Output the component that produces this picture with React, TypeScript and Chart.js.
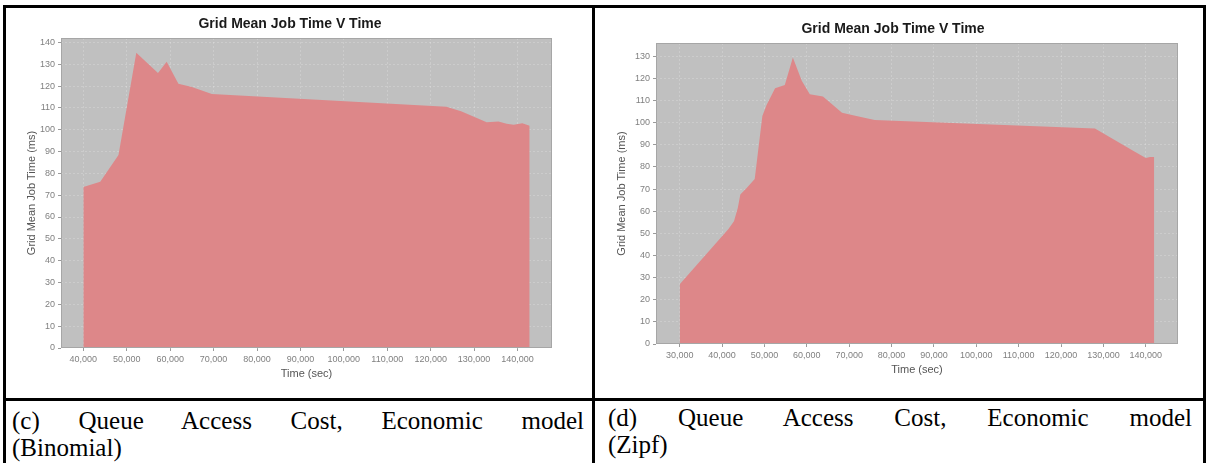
import React, { useEffect, useRef } from 'react';
import { Chart, registerables } from 'chart.js';

Chart.register(...registerables);

// ---- Data: (c) Binomial ----
const binomialTime = [40000, 43900, 48100, 52200, 57200, 59200, 61900, 65000, 69600, 123600, 127000, 132900, 135600, 137500, 139100, 141100, 142800];
const binomialJobTime = [73.8, 76.1, 88.4, 135.2, 126, 131.1, 121.1, 119.6, 116.4, 110.5, 108.5, 103.4, 103.8, 102.7, 102.3, 103, 101.8];
const binomialXTicks = [40000, 50000, 60000, 70000, 80000, 90000, 100000, 110000, 120000, 130000, 140000];
const binomialYTicks = [0, 10, 20, 30, 40, 50, 60, 70, 80, 90, 100, 110, 120, 130, 140];

// ---- Data: (d) Zipf ----
const zipfTime = [30000, 41500, 42800, 43700, 44300, 45800, 47700, 49500, 50500, 52500, 54800, 56700, 58800, 60700, 63800, 68300, 71700, 76000, 128000, 136800, 140000, 141000, 142000];
const zipfJobTime = [27, 52, 55.5, 61.5, 67.5, 70.5, 74.5, 103, 108, 115.5, 117, 129.5, 119, 112.8, 111.8, 104.5, 103, 101.2, 97.4, 87.5, 84, 84.5, 84.5];
const zipfXTicks = [30000, 40000, 50000, 60000, 70000, 80000, 90000, 100000, 110000, 120000, 130000, 140000];
const zipfYTicks = [0, 10, 20, 30, 40, 50, 60, 70, 80, 90, 100, 110, 120, 130];

const chartTitle = 'Grid Mean Job Time V Time';
const xAxisTitle = 'Time (sec)';
const yAxisTitle = 'Grid Mean Job Time (ms)';
const captionC = ['(c) Queue Access Cost, Economic model', '(Binomial)'];
const captionD = ['(d) Queue Access Cost, Economic model', '(Zipf)'];

const plotBgPlugin = {
  id: 'plotBg',
  beforeDraw(chart: any) {
    const { ctx, chartArea } = chart;
    ctx.save();
    ctx.fillStyle = '#c0c0c0';
    ctx.fillRect(chartArea.left, chartArea.top, chartArea.right - chartArea.left, chartArea.bottom - chartArea.top);
    ctx.restore();
  },
  afterDraw(chart: any) {
    const { ctx, chartArea } = chart;
    ctx.save();
    ctx.strokeStyle = '#a6a6a6';
    ctx.lineWidth = 1;
    ctx.strokeRect(chartArea.left + 0.5, chartArea.top + 0.5, chartArea.right - chartArea.left - 1, chartArea.bottom - chartArea.top - 1);
    ctx.restore();
  },
};

const titlePlugin = {
  id: 'jfTitle',
  afterDraw(chart: any, _args: any, opts: any) {
    const ctx = chart.ctx;
    ctx.save();
    ctx.font = 'bold 14px "Liberation Sans", Arial, sans-serif';
    ctx.fillStyle = '#1a1a1a';
    ctx.textAlign = 'center';
    ctx.textBaseline = 'middle';
    ctx.fillText(opts.text, opts.x, opts.y);
    ctx.restore();
  },
};

type Spec = {
  xs: number[];
  ys: number[];
  xTicks: number[];
  yTicks: number[];
  xMin: number;
  xMax: number;
  yMax: number;
  padTop: number;
  padRight: number;
  yWidth: number;
  xHeight: number;
  titleX: number;
  titleY: number;
  yTitlePad: number;
  xTitlePad: number;
};

function AreaChart({ spec, width, height }: { spec: Spec; width: number; height: number }) {
  const ref = useRef<HTMLCanvasElement>(null);
  useEffect(() => {
    if (!ref.current) return;
    const data = spec.xs.map((x, i) => ({ x, y: spec.ys[i] }));
    const tickFont = { family: '"Liberation Sans", Arial, sans-serif', size: 9 };
    const titleFont = { family: '"Liberation Sans", Arial, sans-serif', size: 11 };
    const chart = new Chart(ref.current, {
      type: 'line',
      data: {
        datasets: [
          {
            data,
            backgroundColor: 'rgb(221,135,137)',
            borderColor: 'rgba(0,0,0,0)',
            borderWidth: 0,
            pointRadius: 0,
            fill: 'origin',
            tension: 0,
          },
        ],
      },
      plugins: [plotBgPlugin, titlePlugin],
      options: {
        animation: false,
        responsive: false,
        maintainAspectRatio: false,
        devicePixelRatio: 1,
        layout: { padding: { top: spec.padTop, right: spec.padRight, left: 0, bottom: 0 } },
        plugins: {
          legend: { display: false },
          tooltip: { enabled: false },
          title: { display: false },
          jfTitle: { text: chartTitle, x: spec.titleX, y: spec.titleY },
        } as any,
        scales: {
          x: {
            type: 'linear',
            min: spec.xMin,
            max: spec.xMax,
            afterBuildTicks: (scale: any) => {
              scale.ticks = spec.xTicks.map((v) => ({ value: v }));
            },
            afterFit: (scale: any) => {
              scale.height = spec.xHeight;
            },
            ticks: {
              color: '#808080',
              font: tickFont,
              padding: 3,
              maxRotation: 0,
              autoSkip: false,
              callback: (v: any) => Number(v).toLocaleString('en-US'),
            },
            grid: {
              color: 'rgba(255,255,255,0.2)',
              tickColor: '#9a9a9a',
              tickLength: 3,
              lineWidth: 1,
            },
            border: { display: false, dash: [2, 2] },
            title: {
              display: true,
              text: xAxisTitle,
              color: '#555',
              font: titleFont,
              padding: { top: 0, bottom: spec.xTitlePad },
            },
          },
          y: {
            type: 'linear',
            min: 0,
            max: spec.yMax,
            afterBuildTicks: (scale: any) => {
              scale.ticks = spec.yTicks.map((v) => ({ value: v }));
            },
            afterFit: (scale: any) => {
              scale.width = spec.yWidth;
            },
            ticks: {
              color: '#808080',
              font: tickFont,
              padding: 3,
              autoSkip: false,
            },
            grid: {
              color: 'rgba(255,255,255,0.2)',
              tickColor: '#9a9a9a',
              tickLength: 3,
              lineWidth: 1,
            },
            border: { display: false, dash: [2, 2] },
            title: {
              display: true,
              text: yAxisTitle,
              color: '#555',
              font: titleFont,
              padding: { top: spec.yTitlePad, bottom: 0 },
            },
          },
        },
      } as any,
    });
    return () => chart.destroy();
  }, [spec, width, height]);
  return <canvas ref={ref} width={width} height={height} style={{ width, height, display: 'block' }} />;
}

// canvas at (6,8) size 586x390
const leftSpec: Spec = {
  xs: binomialTime,
  ys: binomialJobTime,
  xTicks: binomialXTicks,
  yTicks: binomialYTicks,
  xMin: 34860,
  xMax: 147940,
  yMax: 142,
  padTop: 30,
  padRight: 40,
  yWidth: 55,
  xHeight: 50,
  titleX: 284,
  titleY: 16,
  yTitlePad: 19,
  xTitlePad: 17,
};

// canvas at (595,8) size 608x390
const rightSpec: Spec = {
  xs: zipfTime,
  ys: zipfJobTime,
  xTicks: zipfXTicks,
  yTicks: zipfYTicks,
  xMin: 24400,
  xMax: 147600,
  yMax: 136,
  padTop: 35,
  padRight: 25,
  yWidth: 61,
  xHeight: 54,
  titleX: 298,
  titleY: 21,
  yTitlePad: 20,
  xTitlePad: 21,
};

const rule = (left: number, top: number, width: number, height: number) => (
  <div style={{ position: 'absolute', left, top, width, height, background: '#000' }} />
);

function Caption({ lines, left, width, top }: { lines: string[]; left: number; width: number; top: number }) {
  return (
    <div
      style={{
        position: 'absolute',
        left,
        top,
        width,
        fontFamily: '"Liberation Serif", "Times New Roman", serif',
        fontSize: 25,
        lineHeight: '27px',
        color: '#000',
      }}
    >
      <div style={{ textAlign: 'justify', textAlignLast: 'justify' } as any}>{lines[0]}</div>
      <div>{lines[1]}</div>
    </div>
  );
}

export default function App() {
  return (
    <div style={{ position: 'absolute', left: 0, top: 0, width: 1206, height: 463, background: '#fff', overflow: 'hidden' }}>
      <div style={{ position: 'absolute', left: 6, top: 8 }}>
        <AreaChart spec={leftSpec} width={586} height={390} />
      </div>
      <div style={{ position: 'absolute', left: 595, top: 8 }}>
        <AreaChart spec={rightSpec} width={608} height={390} />
      </div>
      {rule(3, 5, 1203, 3)}
      {rule(3, 5, 3, 458)}
      {rule(592, 5, 3, 458)}
      {rule(1203, 5, 3, 458)}
      {rule(3, 398, 1203, 3)}
      <Caption lines={captionC} left={12} width={572} top={407} />
      <Caption lines={captionD} left={608} width={584} top={404} />
    </div>
  );
}
